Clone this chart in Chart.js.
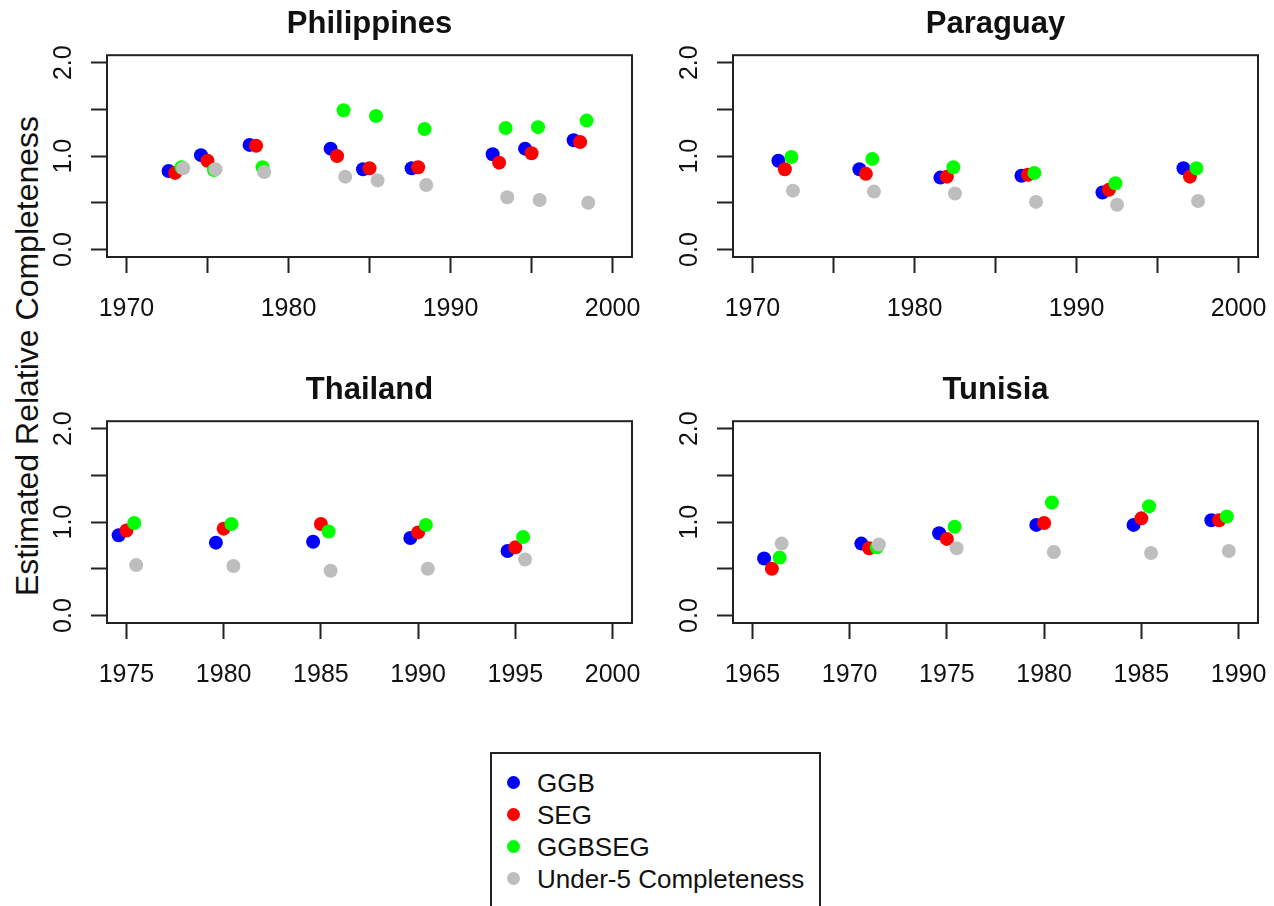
<!DOCTYPE html>
<html>
<head>
<meta charset="utf-8">
<script src="https://cdn.jsdelivr.net/npm/chart.js@4.4.0/dist/chart.umd.min.js"></script>
<style>
  body { margin: 0; background: #fff; width: 1274px; height: 906px; overflow: hidden; position: relative;
         font-family: Arial, "Liberation Sans", sans-serif; }
  canvas { position: absolute; }
  #ylab { position: absolute; left: 27px; top: 356px; transform: translate(-50%, -50%) rotate(-90deg);
          font-size: 32px; white-space: nowrap; color: #111; }
  #legend { position: absolute; left: 490px; top: 752px; width: 327px; height: 170px; border: 2px solid #222; }
  #legend .row { position: relative; height: 32px; line-height: 32px; font-size: 26px; color: #111; }
  #legend .dot { position: absolute; left: 15px; top: 9px; width: 13px; height: 13px; border-radius: 50%; }
  #legend .txt { position: absolute; left: 45px; top: 0; white-space: nowrap; }
</style>
</head>
<body>
<div id="ylab">Estimated Relative Completeness</div>
<div id="legend"><div style="height:13px"></div></div>

<script>
// series
var seriesNames = ["GGB", "SEG", "GGBSEG", "Under-5 Completeness"];
var seriesColors = ["#0000ff", "#ff0000", "#00ff00", "#bebebe"];
var dodge = [-0.4, 0, 0.4, 0.5];   // horizontal offset of each series around the year

// Philippines
var phYears  = [1973, 1975, 1978, 1983, 1985, 1988, 1993, 1995, 1998];
var phGGB    = [0.84, 1.01, 1.12, 1.08, 0.86, 0.87, 1.02, 1.08, 1.17];
var phSEG    = [0.82, 0.95, 1.11, 1.00, 0.87, 0.88, 0.93, 1.03, 1.15];
var phGGBSEG = [0.88, 0.85, 0.88, 1.49, 1.43, 1.29, 1.30, 1.31, 1.38];
var phU5     = [0.87, 0.86, 0.83, 0.78, 0.74, 0.69, 0.56, 0.53, 0.50];

// Paraguay
var pyYears  = [1972, 1977, 1982, 1987, 1992, 1997];
var pyGGB    = [0.95, 0.86, 0.77, 0.79, 0.61, 0.87];
var pySEG    = [0.86, 0.81, 0.78, 0.80, 0.64, 0.78];
var pyGGBSEG = [0.99, 0.97, 0.88, 0.82, 0.71, 0.87];
var pyU5     = [0.63, 0.62, 0.60, 0.51, 0.48, 0.52];

// Thailand
var thYears  = [1975, 1980, 1985, 1990, 1995];
var thGGB    = [0.86, 0.78, 0.79, 0.83, 0.69];
var thSEG    = [0.91, 0.93, 0.98, 0.89, 0.73];
var thGGBSEG = [0.99, 0.98, 0.90, 0.97, 0.84];
var thU5     = [0.54, 0.53, 0.48, 0.50, 0.60];

// Tunisia
var tnYears  = [1966, 1971, 1975, 1980, 1985, 1989];
var tnGGB    = [0.61, 0.77, 0.88, 0.97, 0.97, 1.02];
var tnSEG    = [0.50, 0.72, 0.82, 0.99, 1.04, 1.02];
var tnGGBSEG = [0.62, 0.73, 0.95, 1.21, 1.17, 1.06];
var tnU5     = [0.77, 0.76, 0.72, 0.68, 0.67, 0.69];

// ticks
var xTicks7000 = [1970, 1975, 1980, 1985, 1990, 1995, 2000];
var xTicks7500 = [1975, 1980, 1985, 1990, 1995, 2000];
var xTicks6590 = [1965, 1970, 1975, 1980, 1985, 1990];
var yTicks = [0, 0.5, 1, 1.5, 2];

Chart.defaults.font.family = 'Arial, "Liberation Sans", sans-serif';
Chart.defaults.color = '#111';

var boxPlugin = {
    id: 'box',
    afterDraw: function(chart) {
        var a = chart.chartArea, ctx = chart.ctx;
        ctx.save();
        ctx.strokeStyle = '#222';
        ctx.lineWidth = 2;
        ctx.strokeRect(a.left, a.top, a.right - a.left, a.bottom - a.top);
        ctx.restore();
    }
};

function makePanel(title, years, values, xMin, xMax, xTicks, labelEvery, left, top, yW, padR) {
    var cv = document.createElement('canvas');
    cv.width = 640 - (left > 0 ? 10 : 0);
    cv.height = 330;
    cv.style.left = left + 'px';
    cv.style.top = top + 'px';
    document.body.appendChild(cv);

    var datasets = values.map(function(vals, i) {
        return {
            label: seriesNames[i],
            data: years.map(function(yr, j) { return {x: yr + dodge[i], y: vals[j]}; }),
            backgroundColor: seriesColors[i],
            borderWidth: 0,
            pointRadius: 7,
            pointHoverRadius: 7,
            order: values.length - i
        };
    });

    var tickGrid = {drawOnChartArea: false, drawTicks: true, tickLength: 16, tickWidth: 2, tickColor: '#222'};

    return new Chart(cv, {
        type: 'scatter',
        data: {datasets: datasets},
        plugins: [boxPlugin],
        options: {
            responsive: false,
            animation: false,
            events: [],
            layout: {padding: {top: 1, right: padR, left: 0, bottom: 0}},
            plugins: {
                legend: {display: false},
                tooltip: {enabled: false},
                title: {display: true, text: title, fullSize: false, color: '#111',
                        font: {size: 31, weight: 'bold'}, padding: {top: 5, bottom: 12}}
            },
            scales: {
                x: {
                    type: 'linear', min: xMin, max: xMax,
                    afterBuildTicks: function(s) { s.ticks = xTicks.map(function(v) { return {value: v}; }); },
                    afterFit: function(s) { s.height = 73; s.paddingLeft = 0; s.paddingRight = 0; },
                    ticks: {autoSkip: false, maxRotation: 0, padding: 21, font: {size: 25}, color: '#111',
                            callback: function(v) { return v % labelEvery === 0 ? String(v) : ''; }},
                    grid: tickGrid,
                    border: {display: false}
                },
                y: {
                    type: 'linear', min: -0.08, max: 2.08,
                    afterBuildTicks: function(s) { s.ticks = yTicks.map(function(v) { return {value: v}; }); },
                    afterFit: function(s) { s.width = yW; s.paddingTop = 0; s.paddingBottom = 0; },
                    ticks: {autoSkip: false, minRotation: 90, maxRotation: 90, crossAlign: 'center', padding: 10,
                            font: {size: 25}, color: '#111',
                            callback: function(v) { return Number.isInteger(v) ? v.toFixed(1) : ''; }},
                    grid: tickGrid,
                    border: {display: false}
                }
            }
        }
    });
}

makePanel('Philippines', phYears, [phGGB, phSEG, phGGBSEG, phU5], 1968.8, 2001.2, xTicks7000, 10, 0, 0, 107, 8);
makePanel('Paraguay', pyYears, [pyGGB, pySEG, pyGGBSEG, pyU5], 1968.8, 2001.2, xTicks7000, 10, 637, 0, 96, 9);
makePanel('Thailand', thYears, [thGGB, thSEG, thGGBSEG, thU5], 1974, 2001, xTicks7500, 5, 0, 366, 107, 8);
makePanel('Tunisia', tnYears, [tnGGB, tnSEG, tnGGBSEG, tnU5], 1964, 1991, xTicks6590, 5, 637, 366, 96, 9);

// legend
var legend = document.getElementById('legend');
seriesNames.forEach(function(name, i) {
    var row = document.createElement('div');
    row.className = 'row';
    row.innerHTML = '<span class="dot" style="background:' + seriesColors[i] + '"></span><span class="txt">' + name + '</span>';
    legend.appendChild(row);
});
</script>
</body>
</html>
